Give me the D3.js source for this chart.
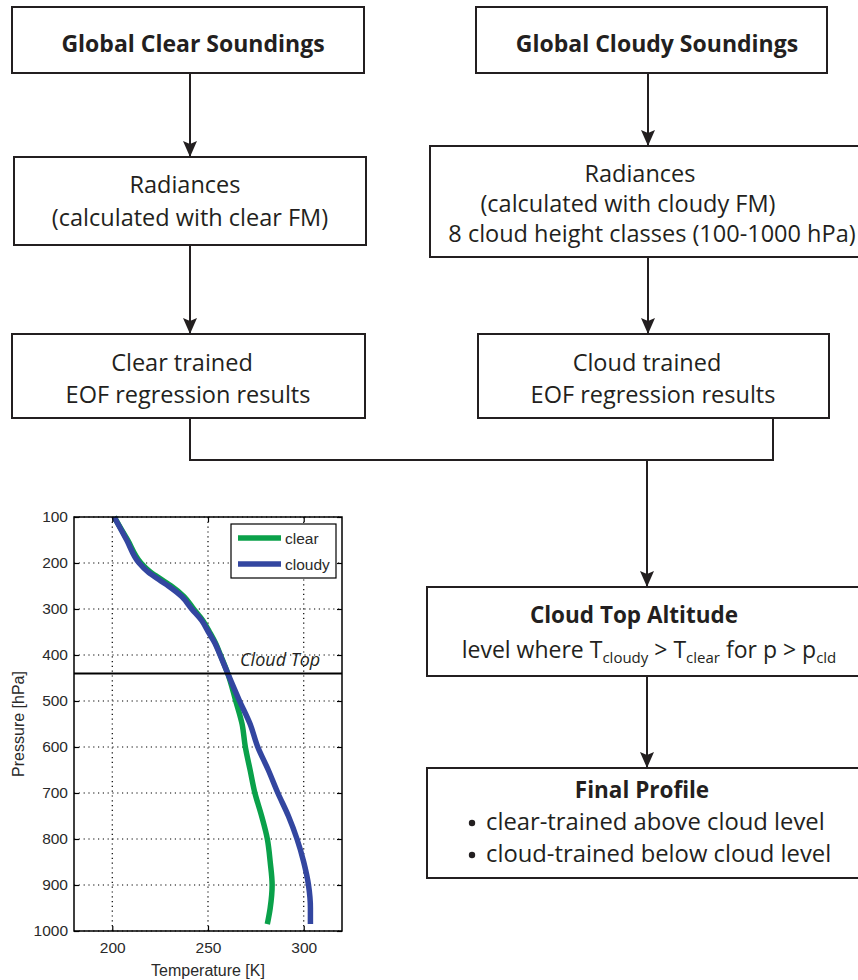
<!DOCTYPE html>
<html>
<head>
<meta charset="utf-8">
<script src="https://cdn.jsdelivr.net/npm/d3@7"></script>
<style>
  body { margin: 0; background: #fff; }
  svg { display: block; }
  .box { fill: #fff; stroke: #231f20; stroke-width: 2; }
  .flow { fill: none; stroke: #231f20; stroke-width: 2; }
  .ftext { font-family: "Open Sans", sans-serif; fill: #231f20; }
  .grid-line { stroke: #000; stroke-width: 1.2; stroke-dasharray: 1.2,3.6; }
  .axis text { font-family: "Liberation Sans", Arial, sans-serif; font-size: 15.5px; fill: #2a2a2a; }
  .axis line { stroke: #000; stroke-width: 1.2; }
  .axis path { display: none; }
</style>
</head>
<body>
<svg id="container" width="858" height="980"></svg>
<script>
// Flowchart of the cloud top retrieval + example temperature profiles

var pressure = [100, 150, 200, 220, 238, 250, 273, 300, 325, 350, 375, 400, 440, 500, 550, 600, 650, 700, 750, 800, 850, 900, 950, 985]
  , clearT   = [201, 208, 215, 220, 226.5, 230.8, 237.5, 242.5, 247.3, 250.8, 254, 256.5, 260.3, 264.5, 267.8, 269.5, 272, 274.5, 278, 281, 282.5, 283.5, 282.5, 281]
  , cloudyT  = [201, 207.5, 214, 218.8, 225, 229.3, 236.3, 241.5, 246.7, 250.2, 253.7, 256.3, 260.3, 266.5, 272, 276, 281.5, 286.5, 292, 296.5, 300, 302.5, 303.5, 303.5]
  , seriesNames  = ["clear", "cloudy"]
  , seriesColors = ["#0aa14a", "#3346a0"]
  , xTicks = [200, 250, 300]
  , yTicks = [100, 200, 300, 400, 500, 600, 700, 800, 900, 1000]
  , cloudTopP = 440   // hPa
  ;

var clearSteps  = ["Global Clear Soundings", "Radiances", "(calculated with clear FM)", "Clear trained", "EOF regression results"]
  , cloudySteps = ["Global Cloudy Soundings", "Radiances", "(calculated with cloudy FM)", "8 cloud height classes (100-1000 hPa)", "Cloud trained", "EOF regression results"]
  , finalSteps  = ["Cloud Top Altitude", "Final Profile", "clear-trained above cloud level", "cloud-trained below cloud level"]
  ;

var svg = d3.select("#container");

svg.append("defs").append("marker")
   .attr("id", "head")
   .attr("viewBox", "0 -7 16 14")
   .attr("refX", 16).attr("refY", 0)
   .attr("markerWidth", 16).attr("markerHeight", 14)
   .attr("markerUnits", "userSpaceOnUse")
   .attr("orient", "auto")
   .append("path")
   .attr("d", "M0,-7L16,0L0,7L3,0Z")
   .attr("fill", "#231f20");

function box (x, y, w, h) {
  svg.append("rect").attr("class", "box")
     .attr("x", x).attr("y", y).attr("width", w).attr("height", h);
}

function label (txt, cx, y, size, bold, anchor) {
  return svg.append("text").attr("class", "ftext")
            .attr("x", cx).attr("y", y)
            .attr("text-anchor", anchor || "middle")
            .style("font-size", size + "px")
            .style("font-weight", bold ? 700 : 400)
            .text(txt);
}

function arrow (x, y1, y2) {
  svg.append("line").attr("class", "flow")
     .attr("x1", x).attr("y1", y1).attr("x2", x).attr("y2", y2)
     .attr("marker-end", "url(#head)");
}

// ---- flowchart ----
box(12, 7, 352, 66);
box(476, 7, 351, 66);
box(14, 157, 352, 88);
box(430, 146, 440, 111);   // runs off the right edge like the original
box(12, 334, 353, 84);
box(478, 334, 351, 84);
box(427, 587, 440, 89);
box(427, 768, 440, 110);

arrow(190, 73, 157);
arrow(648, 73, 146);
arrow(190, 245, 334);
arrow(648, 257, 334);
svg.append("path").attr("class", "flow")
   .attr("d", "M190,418V460H773V418");
arrow(647, 460, 587);
arrow(647, 676, 768);

var reg = 23.5;   // regular text size

label(clearSteps[0], 193, 52, 23, true);
label(clearSteps[1], 185, 193, reg);
label(clearSteps[2], 190, 226, reg);
label(clearSteps[3], 182, 371, reg);
label(clearSteps[4], 188, 403, reg);

label(cloudySteps[0], 657, 52, 23, true);
label(cloudySteps[1], 640, 182, reg);
label(cloudySteps[2], 628, 212, reg);
label(cloudySteps[3], 652, 242, reg);
label(cloudySteps[4], 647, 371, reg);
label(cloudySteps[5], 653, 403, reg);

label(finalSteps[0], 634, 623, 22.5, true);
var f = label("level where T", 649, 658, 23);
f.append("tspan").attr("dy", 5).style("font-size", "15px").text("cloudy");
f.append("tspan").attr("dy", -5).text(" > T");
f.append("tspan").attr("dy", 5).style("font-size", "15px").text("clear");
f.append("tspan").attr("dy", -5).text(" for p > p");
f.append("tspan").attr("dy", 5).style("font-size", "15px").text("cld");

label(finalSteps[1], 642, 798, 22.5, true);
[finalSteps[2], finalSteps[3]].forEach(function (s, i) {
  svg.append("circle").attr("cx", 472).attr("cy", 823 + i * 32).attr("r", 3.2).attr("fill", "#231f20");
  label(s, 486, 830 + i * 32, 23.8, false, "start");
});

// ---- temperature profile plot ----
var x = d3.scaleLinear().domain([180, 320]).range([74, 342])
  , y = d3.scaleLinear().domain([100, 1000]).range([517, 931])
  ;

var grid = svg.append("g");
xTicks.forEach(function (t) {
  grid.append("line").attr("class", "grid-line")
      .attr("x1", x(t)).attr("x2", x(t)).attr("y1", y(100)).attr("y2", y(1000));
});
yTicks.forEach(function (t) {
  grid.append("line").attr("class", "grid-line")
      .attr("x1", x(180)).attr("x2", x(320)).attr("y1", y(t)).attr("y2", y(t));
});

var line = d3.line()
             .curve(d3.curveMonotoneY)
             .x(function (d) { return x(d[0]); })
             .y(function (d) { return y(d[1]); });

[clearT, cloudyT].forEach(function (temps, i) {
  svg.append("path")
     .datum(temps.map(function (t, j) { return [t, pressure[j]]; }))
     .attr("d", line)
     .attr("fill", "none")
     .attr("stroke", seriesColors[i])
     .attr("stroke-width", 5.5)
     .attr("stroke-linejoin", "round");
});

// cloud top marker
svg.append("line")
   .attr("x1", x(180)).attr("x2", x(320))
   .attr("y1", y(cloudTopP)).attr("y2", y(cloudTopP))
   .attr("stroke", "#000").attr("stroke-width", 2);
svg.append("text")
   .attr("x", 240).attr("y", y(cloudTopP) - 7)
   .style("font-family", "'Open Sans', sans-serif")
   .style("font-style", "italic")
   .style("font-size", "18px")
   .attr("fill", "#231f20")
   .text("Cloud Top");

// axes (Matlab style: ticks pointing in on all sides)
svg.append("g").attr("class", "axis")
   .attr("transform", "translate(0," + y(1000) + ")")
   .call(d3.axisBottom(x).tickValues(xTicks).tickSize(-5).tickPadding(11));
svg.append("g").attr("class", "axis")
   .attr("transform", "translate(0," + y(100) + ")")
   .call(d3.axisTop(x).tickValues(xTicks).tickSize(-5).tickFormat(""));
svg.append("g").attr("class", "axis")
   .attr("transform", "translate(" + x(180) + ",0)")
   .call(d3.axisLeft(y).tickValues(yTicks).tickSize(-5).tickPadding(6).tickFormat(d3.format("d")));
svg.append("g").attr("class", "axis")
   .attr("transform", "translate(" + x(320) + ",0)")
   .call(d3.axisRight(y).tickValues(yTicks).tickSize(-5).tickFormat(""));

svg.append("rect")
   .attr("x", x(180)).attr("y", y(100))
   .attr("width", x(320) - x(180)).attr("height", y(1000) - y(100))
   .attr("fill", "none").attr("stroke", "#000").attr("stroke-width", 1.5);

svg.append("text")
   .attr("x", (x(180) + x(320)) / 2).attr("y", 976)
   .attr("text-anchor", "middle")
   .style("font-family", "'Liberation Sans', Arial, sans-serif")
   .style("font-size", "16px").attr("fill", "#2a2a2a")
   .text("Temperature [K]");
svg.append("text")
   .attr("transform", "translate(24," + (y(100) + y(1000)) / 2 + ") rotate(-90)")
   .attr("text-anchor", "middle")
   .style("font-family", "'Liberation Sans', Arial, sans-serif")
   .style("font-size", "16px").attr("fill", "#2a2a2a")
   .text("Pressure [hPa]");

// legend
var legend = svg.append("g");
legend.append("rect")
      .attr("x", 231).attr("y", 524).attr("width", 105).attr("height", 54)
      .attr("fill", "#fff").attr("stroke", "#000").attr("stroke-width", 1.2);
seriesNames.forEach(function (name, i) {
  legend.append("line")
        .attr("x1", 238).attr("x2", 281)
        .attr("y1", 538 + i * 26).attr("y2", 538 + i * 26)
        .attr("stroke", seriesColors[i]).attr("stroke-width", 5.5);
  legend.append("text")
        .attr("x", 285).attr("y", 544 + i * 26)
        .style("font-family", "'Liberation Sans', Arial, sans-serif")
        .style("font-size", "15.5px").attr("fill", "#2a2a2a")
        .text(name);
});
</script>
</body>
</html>
